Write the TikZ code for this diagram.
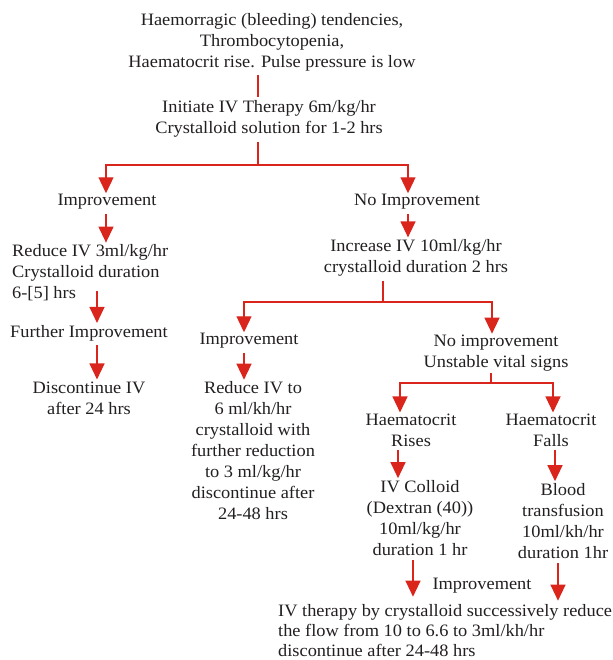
\documentclass[tikz,border=0pt]{standalone}
\usepackage{fontspec}
\setmainfont{Liberation Serif}[FakeStretch=1.055]
\usepackage{xcolor}
\usetikzlibrary{arrows.meta}
\definecolor{flowred}{RGB}{218,37,29}
\definecolor{inkgray}{RGB}{35,31,32}

\begin{document}
\begin{tikzpicture}[x=1pt,y=-1pt,
    txt/.style={inner sep=0pt, align=center, text=inkgray, font=\fontsize{17.4}{21}\selectfont},
    redline/.style={flowred, line width=1.3pt},
    flow/.style={redline, -{Triangle[width=15pt,length=16pt]}}]
    \useasboundingbox (0,0) rectangle (612,660);

    % Start
    \node[txt] (signs) at (272,42) {Haemorragic (bleeding) tendencies,\\Thrombocytopenia,\\Haematocrit rise. Pulse pressure is low};
    \node[txt] (initiate) at (269,119) {Initiate IV Therapy 6m/kg/hr\\Crystalloid solution for 1-2 hrs};
    \coordinate (stemA) at (258,0);
    \coordinate (splitA) at (258,165);
    \draw[redline] ([yshift=-4]signs.south -| stemA) -- ([yshift=3]initiate.north -| stemA);
    \draw[redline] ([yshift=-4]initiate.south -| stemA) -- (splitA);

    % Left branch
    \node[txt] (improveA) at (107,202) {Improvement};
    \node[txt, align=left, anchor=west] (reduceA) at (12,273) {Reduce IV 3ml/kg/hr\\Crystalloid duration\\6-[5] hrs};
    \node[txt] (furtherA) at (89,333) {Further Improvement};
    \node[txt] (discA) at (89,398) {Discontinue IV\\after 24 hrs};
    \draw[flow] (splitA) -| ([xshift=-1,yshift=1]improveA.north);
    \draw[flow] ([xshift=-1,yshift=-4]improveA.south) -- ([xshift=-1,yshift=2]improveA.south |- reduceA.north);
    \draw[flow] ([xshift=8,yshift=10]reduceA.south -| furtherA.north) -- ([xshift=8,yshift=2]furtherA.north);
    \draw[flow] ([xshift=8,yshift=-4]furtherA.south) -- ([xshift=8,yshift=2]furtherA.south |- discA.north);

    % Right branch
    \node[txt] (noimpA) at (417,202) {No Improvement};
    \node[txt] (increase) at (416,258) {Increase IV 10ml/kg/hr\\crystalloid duration 2 hrs};
    \coordinate (splitB) at (383,302);
    \draw[flow] (splitA) -| ([xshift=-9,yshift=1]noimpA.north);
    \draw[flow] ([xshift=-9,yshift=-4]noimpA.south) -- ([xshift=-9,yshift=2]noimpA.south |- increase.north);
    \draw[redline] ([yshift=-4]increase.south -| splitB) -- (splitB);

    \node[txt] (improveB) at (249,341) {Improvement};
    \node[txt] (reduceB) at (253,451) {Reduce IV to\\6 ml/kh/hr\\crystalloid with\\further reduction\\to 3 ml/kg/hr\\discontinue after\\24-48 hrs};
    \node[txt] (noimpB) at (496,353) {No improvement\\Unstable vital signs};
    \draw[flow] (splitB) -| ([xshift=-5,yshift=1]improveB.north);
    \draw[flow] ([xshift=-5,yshift=-4]improveB.south) -- ([xshift=-5,yshift=2]improveB.south |- reduceB.north);
    \draw[flow] (splitB) -| ([xshift=-4,yshift=1]noimpB.north);

    % Haematocrit
    \coordinate (splitC) at (491,383);
    \node[txt] (hctRise) at (411,430) {Haematocrit\\Rises};
    \node[txt] (hctFall) at (551,430) {Haematocrit\\Falls};
    \node[txt] (colloid) at (420,518) {IV Colloid\\(Dextran (40))\\10ml/kg/hr\\duration 1 hr};
    \node[txt] (blood) at (563,521) {Blood\\transfusion\\10ml/kh/hr\\duration 1hr};
    \draw[redline] ([yshift=-2]noimpB.south -| splitC) -- (splitC);
    \draw[flow] (splitC) -| ([xshift=-11,yshift=1]hctRise.north);
    \draw[flow] (splitC) -| ([xshift=2,yshift=1]hctFall.north);
    \draw[flow] ([xshift=-13,yshift=-3]hctRise.south) -- ([xshift=-13,yshift=2]hctRise.south |- colloid.north);
    \draw[flow] ([xshift=4,yshift=-3]hctFall.south) -- ([xshift=4,yshift=2]hctFall.south |- blood.north);

    % End
    \node[txt] (improveC) at (482,586) {Improvement};
    \node[txt, align=left, anchor=west, font=\fontsize{17.4}{20}\selectfont] (final) at (278,631) {IV therapy by crystalloid successively reduce\\the flow from 10 to 6.6 to 3ml/kh/hr\\discontinue after 24-48 hrs};
    \draw[flow] ([xshift=-7,yshift=-4]colloid.south) -- ([xshift=-7,yshift=8]colloid.south |- final.north);
    \draw[flow] ([xshift=-5,yshift=-4]blood.south) -- ([xshift=-5,yshift=4]blood.south |- final.north);
\end{tikzpicture}
\end{document}
